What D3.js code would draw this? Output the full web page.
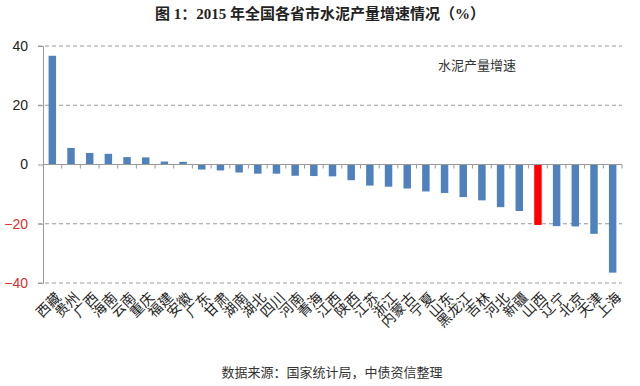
<!DOCTYPE html>
<html>
<head>
<meta charset="utf-8">
<script src="https://cdn.jsdelivr.net/npm/d3@7"></script>
<style>
  body { margin: 0; background: #fff; }
  svg { display: block; }
</style>
</head>
<body>
<div id="chart"></div>
<script>
// provinces, ordered as in the chart
const provinces = ["西藏","贵州","广西","海南","云南","重庆","福建","安徽","广东","甘肃",
  "湖南","湖北","四川","河南","青海","江西","陕西","江苏","浙江","内蒙古",
  "宁夏","山东","黑龙江","吉林","河北","新疆","山西","辽宁","北京","天津","上海"];
// 2015 cement output growth (%)
const growth = [36.7, 5.6, 3.9, 3.6, 2.5, 2.4, 1.0, 0.9, -1.7, -2.0,
  -2.7, -3.1, -3.1, -3.8, -3.9, -4.0, -5.3, -7.1, -7.5, -8.1,
  -9.1, -9.6, -11.0, -12.1, -14.4, -15.7, -20.4, -20.8, -20.9, -23.4, -36.5];
const highlight = "山西";
const yTicks = [40, 20, 0, -20, -40];

const width = 640, height = 386;
const margin = {top: 46, right: 18, bottom: 103, left: 43};

const svg = d3.select("#chart").append("svg")
    .attr("width", width)
    .attr("height", height);

const x = d3.scaleBand()
    .domain(provinces)
    .range([margin.left, width - margin.right])
    .paddingInner(0.6)
    .paddingOuter(0.3);

const y = d3.scaleLinear()
    .domain([-40, 40])
    .range([height - margin.bottom, margin.top]);

// title
svg.append("text")
    .attr("x", 320).attr("y", 19)
    .attr("text-anchor", "middle")
    .style("font-family", "'Liberation Serif', 'Noto Sans CJK SC', serif")
    .style("font-weight", "bold")
    .style("font-size", "15px")
    .attr("fill", "#222")
    .text("图 1：2015 年全国各省市水泥产量增速情况（%）");

// dashed grid lines
svg.append("g").selectAll("line")
    .data(yTicks.filter(d => d !== 0))
    .join("line")
    .attr("x1", margin.left - 5)
    .attr("x2", width - margin.right)
    .attr("y1", d => y(d)).attr("y2", d => y(d))
    .attr("stroke", "#999")
    .attr("stroke-dasharray", "4,3");

// y axis
const yAxis = svg.append("g")
    .attr("transform", "translate(" + margin.left + ",0)")
    .call(d3.axisLeft(y).tickValues(yTicks).tickSize(5).tickPadding(10).tickFormat(d3.format("d")));
yAxis.select(".domain").attr("stroke", "#999");
yAxis.selectAll(".tick line").attr("stroke", "#999");
yAxis.selectAll(".tick text")
    .style("font-family", "'Liberation Sans', Arial, sans-serif")
    .style("font-size", "14px")
    .attr("fill", d => d < 0 ? "#d9302c" : "#222");

// bars
svg.append("g").selectAll("rect")
    .data(provinces)
    .join("rect")
    .attr("x", d => x(d))
    .attr("width", x.bandwidth())
    .attr("y", (d, i) => y(Math.max(0, growth[i])))
    .attr("height", (d, i) => Math.abs(y(growth[i]) - y(0)))
    .attr("fill", d => d === highlight ? "#ff0000" : "#4f81bd");

// zero axis with ticks between categories
const step = x.step();
const xAxis = svg.append("g")
    .attr("transform", "translate(0," + y(0) + ")");
xAxis.append("line")
    .attr("x1", margin.left).attr("x2", width - margin.right)
    .attr("stroke", "#999");
xAxis.selectAll(".tk")
    .data(provinces)
    .join("line")
    .attr("class", "tk")
    .attr("x1", d => x(d) + x.bandwidth() / 2 + step / 2)
    .attr("x2", d => x(d) + x.bandwidth() / 2 + step / 2)
    .attr("y1", 0).attr("y2", 4)
    .attr("stroke", "#999");

// category labels, rotated
svg.append("g").selectAll("text")
    .data(provinces)
    .join("text")
    .attr("transform", d => "translate(" + (x(d) + x.bandwidth() / 2 + 6) + "," + (y(-40) + 12) + ") rotate(-45)")
    .attr("text-anchor", "end")
    .attr("dy", "0.35em")
    .style("font-family", "'Noto Sans CJK SC', sans-serif")
    .style("font-size", "14px")
    .attr("fill", "#222")
    .text(d => d);

// legend
svg.append("text")
    .attr("x", 477).attr("y", 70)
    .attr("text-anchor", "middle")
    .style("font-family", "'Noto Sans CJK SC', sans-serif")
    .style("font-size", "13px")
    .attr("fill", "#333")
    .text("水泥产量增速");

// source note
svg.append("text")
    .attr("x", 332).attr("y", 377)
    .attr("text-anchor", "middle")
    .style("font-family", "'Noto Sans CJK SC', sans-serif")
    .style("font-size", "13px")
    .attr("fill", "#333")
    .text("数据来源：国家统计局，中债资信整理");
</script>
</body>
</html>
